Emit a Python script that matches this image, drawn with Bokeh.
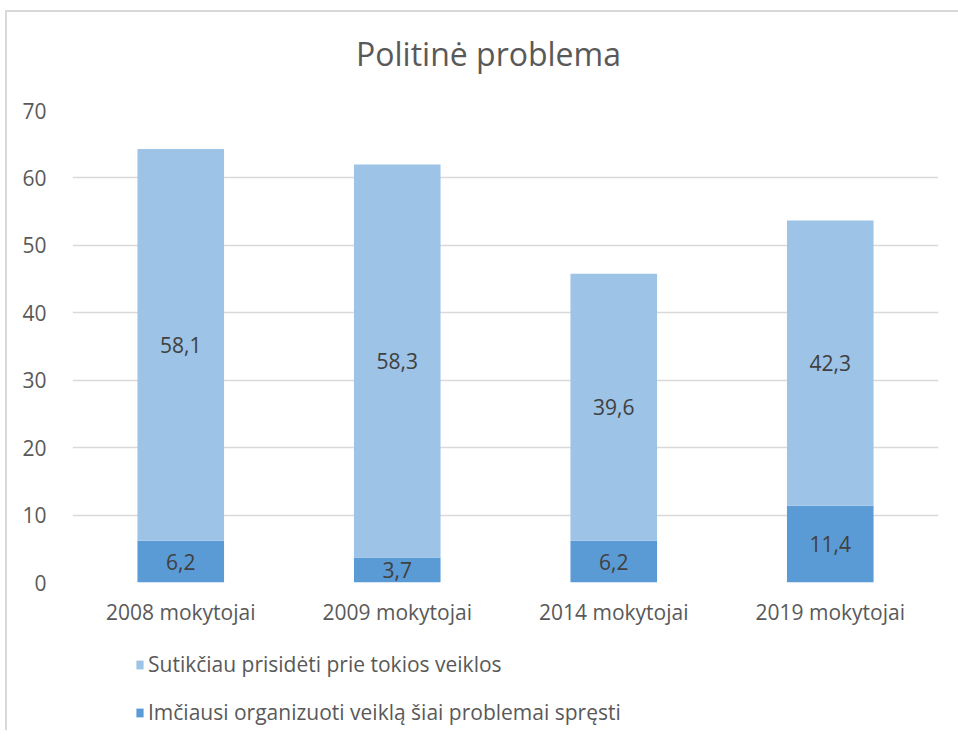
from bokeh.plotting import figure
from bokeh.layouts import column
from bokeh.models import ColumnDataSource, LabelSet, Legend, LegendItem, Label, FixedTicker
from bokeh.core.properties import value
from bokeh.embed import file_html
from bokeh.resources import INLINE

categories = ["2008 mokytojai", "2009 mokytojai", "2014 mokytojai", "2019 mokytojai"]
organized = [6.2, 3.7, 6.2, 11.4]
agreed = [58.1, 58.3, 39.6, 42.3]
series_names = ["Imčiausi organizuoti veiklą šiai problemai spręsti",
                "Sutikčiau prisidėti prie tokios veiklos"]
title_text = "Politinė problema"
y_ticks = [0, 10, 20, 30, 40, 50, 60, 70]

FONT = "Open Sans"
C_DARK = "#5B9BD5"
C_LIGHT = "#9DC3E6"
FS = "21px"
W = 951

src = ColumnDataSource(dict(
    cat=categories,
    org=organized,
    agr=agreed,
    org_mid=[v / 2 for v in organized],
    agr_mid=[o + a / 2 for o, a in zip(organized, agreed)],
    org_txt=[f"{v:.1f}".replace(".", ",") for v in organized],
    agr_txt=[f"{v:.1f}".replace(".", ",") for v in agreed],
))

def bare(fig):
    fig.axis.visible = False
    fig.grid.visible = False
    fig.outline_line_color = None

# title panel
p0 = figure(x_range=(0, 1), y_range=(0, 1), width=W, height=85,
            output_backend="svg", toolbar_location=None,
            min_border_left=0, min_border_right=0, min_border_top=0, min_border_bottom=0)
bare(p0)
p0.add_layout(Label(x=416, y=44, x_units="screen", y_units="screen", text=title_text,
                    text_align="center", text_baseline="middle", text_font=FONT,
                    text_font_size="32px", text_color="#595959"))

# main chart
p = figure(x_range=categories, y_range=(0, 70), width=W, height=548,
           output_backend="svg", toolbar_location=None,
           min_border_left=65, min_border_right=20, min_border_top=13, min_border_bottom=63)

r = p.vbar_stack(["org", "agr"], x="cat", width=0.4, color=[C_DARK, C_LIGHT], source=src, line_width=0)

for ycol, tcol in [("org_mid", "org_txt"), ("agr_mid", "agr_txt")]:
    p.add_layout(LabelSet(x="cat", y=ycol, text=tcol, source=src, text_align="center",
                          text_baseline="middle", text_font=value(FONT), text_font_size=FS,
                          text_color="#404040"))

p.outline_line_color = None
p.xgrid.grid_line_color = None
p.ygrid.grid_line_color = "#D9D9D9"
p.ygrid.grid_line_width = 1.5
p.yaxis.ticker = FixedTicker(ticks=y_ticks)
for ax in (p.xaxis, p.yaxis):
    ax.axis_line_color = None
    ax.major_tick_line_color = None
    ax.minor_tick_line_color = None
    ax.major_label_text_font = FONT
    ax.major_label_text_font_size = FS
    ax.major_label_text_color = "#595959"
p.yaxis.major_label_standoff = 20
p.xaxis.major_label_standoff = 9

# legend panel
p2 = figure(x_range=categories, y_range=(1000, 1001), width=W, height=85,
            output_backend="svg", toolbar_location=None,
            min_border_left=0, min_border_right=0, min_border_top=0, min_border_bottom=0)
bare(p2)
r2 = p2.vbar_stack(["org", "agr"], x="cat", width=0.4, color=[C_DARK, C_LIGHT], source=src, line_width=0)

legend = Legend(items=[LegendItem(label=series_names[1], renderers=[r2[1]]),
                       LegendItem(label=series_names[0], renderers=[r2[0]])],
                location=(63, 4), orientation="vertical",
                label_text_font=FONT, label_text_font_size=FS, label_text_color="#595959",
                glyph_width=9, glyph_height=11, label_height=20, spacing=20,
                padding=0, margin=0, border_line_color=None, background_fill_alpha=0,
                label_standoff=4)
p2.add_layout(legend)

layout = column(p0, p, p2, spacing=0)
layout.styles = {"margin-left": "5px", "margin-top": "10px",
                 "border-left": "2px solid #D9D9D9", "border-top": "2px solid #D9D9D9"}

open("out.html", "w").write(file_html(layout, INLINE))
